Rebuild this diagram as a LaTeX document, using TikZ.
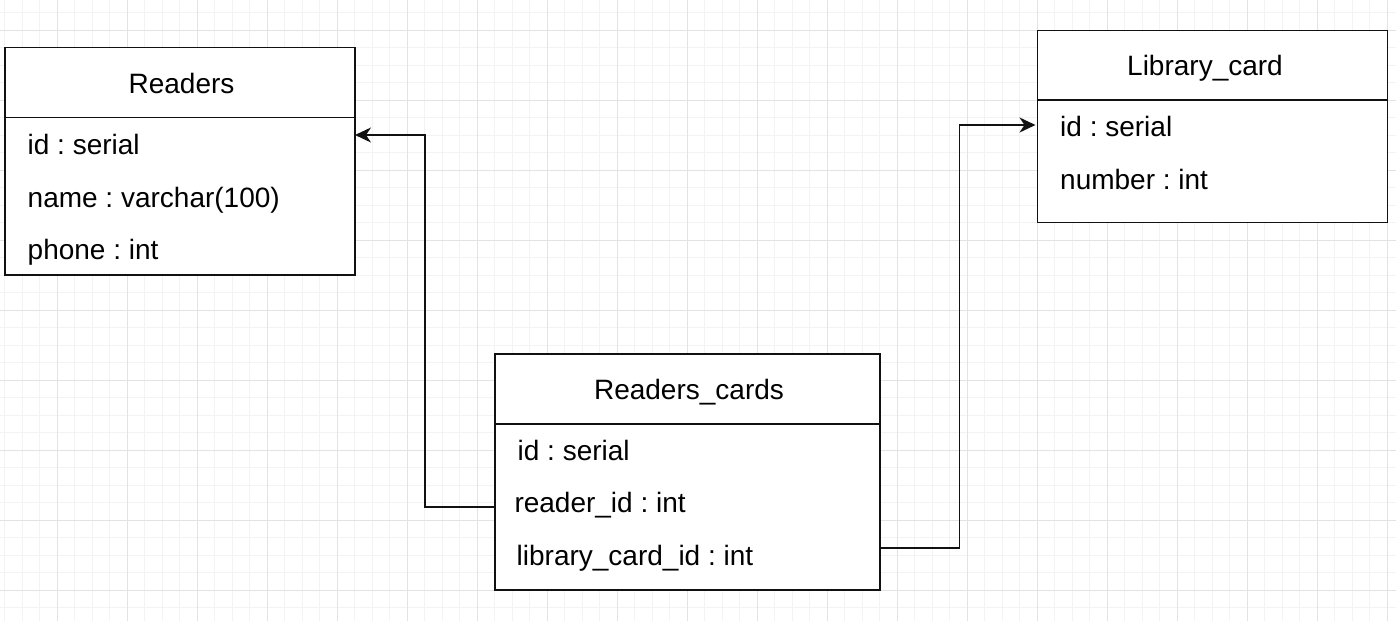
\documentclass[tikz,border=0pt]{standalone}
\usepackage{fontspec}
\setmainfont{Liberation Sans}
\usetikzlibrary{arrows.meta}
\definecolor{gridminor}{HTML}{F3F3F3}
\definecolor{gridmajor}{HTML}{E3E3E3}
\definecolor{ink}{HTML}{111111}
\frenchspacing
\begin{document}
\begin{tikzpicture}[x=1pt,y=-1pt,
  box/.style={draw=ink, line width=1.7pt, fill=white, anchor=north west, inner sep=0pt, outer sep=0pt},
  sep/.style={draw=ink, line width=1.7pt},
  title/.style={anchor=base, font=\fontsize{28}{30}\selectfont\frenchspacing, inner sep=0pt, text=black},
  field/.style={anchor=base west, font=\fontsize{28}{30}\selectfont\frenchspacing, inner sep=0pt, text=black},
  conn/.style={draw=ink, line width=1.7pt, -{Stealth[length=16pt,width=15pt,inset=5pt]}},
  minorline/.style={draw=gridminor, line width=1pt},
  majorline/.style={draw=gridmajor, line width=1pt}]
\useasboundingbox (0,0) rectangle (1396,621);
\fill[white] (0,0) rectangle (1396,621);
% grid
\foreach \i in {0,...,79} \draw[minorline] (4.5+17.5*\i,0) -- (4.5+17.5*\i,621);
\foreach \j in {0,...,35} \draw[minorline] (0,12.5+17.5*\j) -- (1396,12.5+17.5*\j);
\foreach \i in {0,...,19} \draw[majorline] (57+70*\i,0) -- (57+70*\i,621);
\foreach \j in {0,...,8} \draw[majorline] (0,30+70*\j) -- (1396,30+70*\j);

% Readers
\node[box, minimum width=350pt, minimum height=227.5pt] (readers) at (5,47.5) {};
\draw[sep] (readers.west |- 0,117.5) -- (readers.east |- 0,117.5);
\node[title] (readersT) at (181.5,93.3) {Readers};
\node[field] (readersF1) at (27.5,154.8) {id : serial};
\node[field] (readersF2) at (27.5,207) {name : varchar(100)};
\node[field] (readersF3) at (27.5,259.3) {phone : int};

% Library_card
\node[box, minimum width=350pt, minimum height=192pt] (library) at (1037.5,30.5) {};
\draw[sep] (library.west |- 0,100) -- (library.east |- 0,100);
\node[title] (libraryT) at (1205,75.6) {Library\_card};
\node[field] (libraryF1) at (1060,136.7) {id : serial};
\node[field] (libraryF2) at (1060,189.3) {number : int};

% Readers_cards
\node[box, minimum width=385pt, minimum height=236pt] (rc) at (495,354) {};
\draw[sep] (rc.west |- 0,424) -- (rc.east |- 0,424);
\node[title] (rcT) at (689,399.4) {Readers\_cards};
\node[field] (rcF1) at (517.5,460.3) {id : serial};
\node[field] (rcF2) at (514.3,512.8) {reader\_id : int};
\node[field] (rcF3) at (516.5,565.2) {library\_card\_id : int};

% connectors
\draw[conn] (rc.west |- 0,507.3) -- ++(-70,0) |- (readers.east |- 0,135);
\draw[conn, shorten >=2pt] (rc.east |- 0,548) -- ++(79.5,0) |- (library.west |- 0,125);
\end{tikzpicture}
\end{document}
